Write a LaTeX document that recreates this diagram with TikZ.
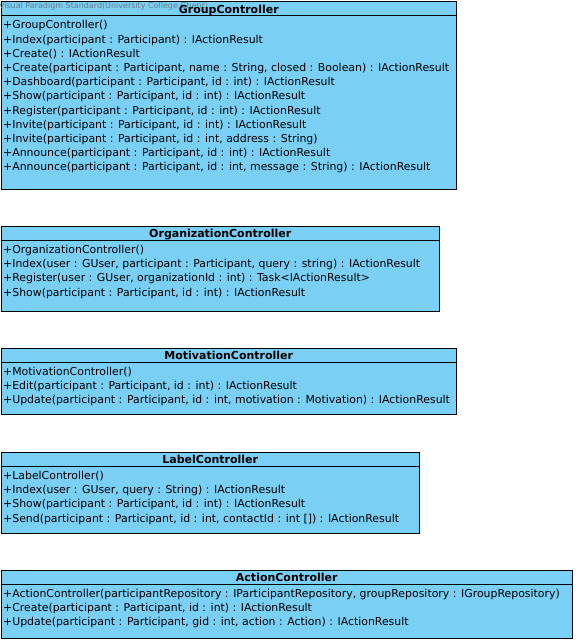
\documentclass[tikz,border=0pt]{standalone}
\usepackage{fontspec}
\setmainfont{DejaVu Sans}
\definecolor{vpblue}{RGB}{122,207,245}
\definecolor{wmgray}{RGB}{105,125,135}
\tikzset{
  classbox/.style={fill=vpblue, draw=black, line width=1pt},
  sepline/.style={draw=black, line width=1pt},
  member/.style={anchor=base west, inner sep=0pt, font=\fontsize{10.9}{13}\selectfont},
  classtitle/.style={anchor=base, inner sep=0pt, font=\bfseries\fontsize{11}{13}\selectfont},
  watermark/.style={anchor=base west, inner sep=0pt, text=wmgray, font=\fontsize{8}{9}\selectfont}
}
\begin{document}
\begin{tikzpicture}[x=1pt,y=-1pt]
\useasboundingbox (0,0) rectangle (576,643);
% GroupController
\path[classbox] (1.5,1) rectangle (456,189);
\draw[sepline] (1.5,15.5) -- (456,15.5);
\node[watermark] (wm) at (-1.2,8.5) {Visual Paradigm Standard(University College Ghent)};
\node[classtitle] (grp) at (228.75,13) {GroupController};
\foreach \t [count=\i] in {{+GroupController()},
 {+Index(participant : Participant) : IActionResult},
 {+Create() : IActionResult},
 {+Create(participant : Participant, name : String, closed : Boolean) : IActionResult},
 {+Dashboard(participant : Participant, id : int) : IActionResult},
 {+Show(participant : Participant, id : int) : IActionResult},
 {+Register(participant : Participant, id : int) : IActionResult},
 {+Invite(participant : Participant, id : int) : IActionResult},
 {+Invite(participant : Participant, id : int, address : String)},
 {+Announce(participant : Participant, id : int) : IActionResult},
 {+Announce(participant : Participant, id : int, message : String) : IActionResult}}
  \node[member] (grp-\i) at (3,{15.5+13.4+(\i-1)*14.2}) {\t};
% OrganizationController
\path[classbox] (1.5,226.5) rectangle (439,311);
\draw[sepline] (1.5,240) -- (439,240);
\node[classtitle] (org) at (220.25,237.5) {OrganizationController};
\foreach \t [count=\i] in {{+OrganizationController()},
 {+Index(user : GUser, participant : Participant, query : string) : IActionResult},
 {+Register(user : GUser, organizationId : int) : Task<IActionResult>},
 {+Show(participant : Participant, id : int) : IActionResult}}
  \node[member] (org-\i) at (3,{240+13.4+(\i-1)*14.2}) {\t};
% MotivationController
\path[classbox] (1.5,348.5) rectangle (456,414.5);
\draw[sepline] (1.5,362) -- (456,362);
\node[classtitle] (mot) at (228.75,359.5) {MotivationController};
\foreach \t [count=\i] in {{+MotivationController()},
 {+Edit(participant : Participant, id : int) : IActionResult},
 {+Update(participant : Participant, id : int, motivation : Motivation) : IActionResult}}
  \node[member] (mot-\i) at (3,{362+13.4+(\i-1)*14.2}) {\t};
% LabelController
\path[classbox] (1.5,452.5) rectangle (419,533);
\draw[sepline] (1.5,466) -- (419,466);
\node[classtitle] (lab) at (210.25,463.5) {LabelController};
\foreach \t [count=\i] in {{+LabelController()},
 {+Index(user : GUser, query : String) : IActionResult},
 {+Show(participant : Participant, id : int) : IActionResult},
 {+Send(participant : Participant, id : int, contactId : int []) : IActionResult}}
  \node[member] (lab-\i) at (3,{466+13.4+(\i-1)*14.2}) {\t};
% ActionController
\path[classbox] (1.5,570.5) rectangle (572,638.5);
\draw[sepline] (1.5,584) -- (572,584);
\node[classtitle] (act) at (286.75,581.5) {ActionController};
\foreach \t [count=\i] in {{+ActionController(participantRepository : IParticipantRepository, groupRepository : IGroupRepository)},
 {+Create(participant : Participant, id : int) : IActionResult},
 {+Update(participant : Participant, gid : int, action : Action) : IActionResult}}
  \node[member] (act-\i) at (3,{584+13.4+(\i-1)*14.2}) {\t};
\end{tikzpicture}
\end{document}
